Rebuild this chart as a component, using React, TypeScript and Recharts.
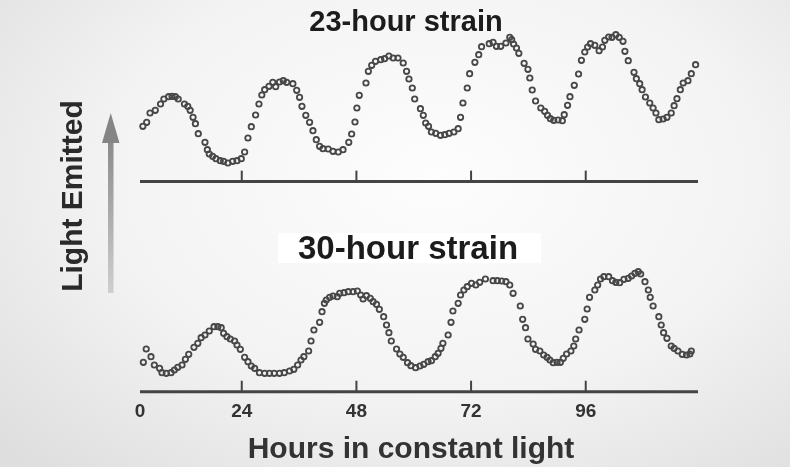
import { Scatter, ScatterChart, XAxis, YAxis } from "recharts";

// hours in constant light / light emitted (arbitrary units)
const HOURS_23 = [
  3.3, 4.1, 4.8, 5.9, 7.0, 7.7, 8.7, 9.4, 10.1, 10.7, 12.0, 12.7, 13.2, 13.8, 14.3, 14.9, 16.3, 16.8, 17.2, 17.9,
  18.6, 19.5, 20.2, 21.1, 22.1, 23.0, 23.9, 24.6, 25.3, 26.0, 26.9, 27.6, 28.2, 28.8, 29.7, 30.5, 31.1, 31.9, 32.7, 33.4,
  34.7, 35.5, 36.1, 36.6, 37.4, 38.2, 38.9, 39.6, 40.3, 41.0,
  42.1, 43.1, 44.2, 45.2, 46.4, 47.0, 47.7, 48.1, 48.6, 50.0, 50.5, 51.2, 52.0, 53.1, 53.9, 54.8, 55.7, 56.7, 57.8, 58.5,
  59.0, 59.7, 60.2, 61.4, 62.0, 62.5, 63.1, 63.7, 64.6, 65.6, 66.5, 67.4, 68.4, 69.3, 69.8, 70.3, 71.2, 71.7, 72.8, 73.6,
  74.2, 75.8, 76.6, 77.3, 78.2, 79.3, 80.1,
  80.5, 80.9, 81.5, 82.0, 83.1, 83.9, 84.3, 84.8, 85.5, 86.6, 87.4, 88.0, 88.6, 89.3, 90.2, 91.1, 91.5, 92.2, 92.7, 93.6,
  94.5, 95.1, 95.8, 96.4, 97.0, 97.9, 98.8, 99.5, 100.0, 100.8, 101.5, 102.3, 103.0, 103.8, 104.2, 104.9, 106.1, 106.6,
  107.3, 107.8, 108.5, 109.4, 110.1, 110.7, 111.3, 112.2, 113.0, 113.9, 114.5, 115.1, 115.8, 116.4, 117.4, 118.1, 119.0
];
const LIGHT_23 = [
  55.3, 59.3, 68.6, 71.3, 77.6, 82.6, 84.9, 85.3, 84.9, 82.6, 77.6, 75.3, 71.3, 64.3, 57.9, 47.9, 39.3, 31.9, 27.6, 25.3,
  22.9, 20.9, 20.3, 18.6, 20.3, 20.9, 22.9, 29.6, 43.6, 54.9, 66.6, 77.6, 86.6, 91.9, 95.3, 99.3, 94.9, 99.6, 100.9, 99.3,
  97.9, 91.3, 84.3, 75.3, 66.3, 59.3, 50.9, 41.9, 35.3, 32.9,
  32.6, 30.3, 29.6, 31.9, 39.3, 47.6, 59.6, 73.6, 86.3, 98.6, 110.3, 116.3, 120.3, 121.9, 122.9, 125.6, 123.6, 123.6, 118.6, 110.3,
  102.6, 93.6, 82.6, 72.9, 66.3, 58.6, 55.3, 49.6, 48.3, 46.3, 46.9, 48.3, 49.6, 52.9, 64.3, 78.6, 93.6, 107.9, 119.3, 126.9,
  134.9, 137.9, 139.3, 135.3, 135.3, 138.6, 144.3,
  141.9, 137.6, 133.6, 128.3, 118.3, 112.3, 103.6, 91.6, 80.6, 73.6, 70.3, 66.3, 62.9, 61.3, 61.6, 60.9, 66.9, 76.3, 84.9, 96.3,
  107.6, 121.3, 129.6, 134.6, 137.9, 136.3, 130.9, 134.6, 141.3, 144.6, 144.3, 146.9, 144.3, 140.3, 130.3, 120.9, 109.3, 102.9,
  97.9, 91.9, 84.6, 78.6, 73.6, 68.6, 61.9, 62.6, 64.3, 68.6, 75.9, 82.9, 91.9, 98.6, 100.9, 107.9, 116.9
];

const HOURS_30 = [
  3.4, 4.0, 5.0, 5.7, 6.8, 7.3, 8.2, 9.2, 9.9, 10.6, 11.5, 12.2, 12.9, 14.0, 14.8, 15.5, 16.3, 17.2, 18.2, 19.0,
  19.7, 20.2, 20.9, 21.6, 22.5, 23.0, 23.7, 24.6, 25.3, 26.0, 26.7, 27.7, 28.8, 29.8, 30.8, 31.9, 32.9, 34.0, 34.9, 35.7,
  36.4, 37.0, 38.0, 38.5, 39.1, 40.3, 40.8, 41.3,
  41.7, 42.4, 43.1, 44.0, 44.5, 45.4, 46.3, 47.3, 48.2, 48.9, 49.4, 50.1, 50.9, 51.5, 52.2, 52.8, 53.7, 54.3, 54.8, 55.3,
  56.4, 57.1, 57.8, 58.7, 59.4, 60.4, 61.3, 62.1, 63.0, 63.7, 64.5, 65.1, 65.7, 66.1, 67.2, 67.8, 68.2, 69.3, 69.8, 70.5,
  71.2, 72.1, 73.0, 73.8, 75.0, 76.6, 77.5, 78.4, 79.3, 80.1, 80.8,
  82.3, 82.8, 83.4, 83.9, 85.0, 85.5, 86.4, 87.2, 87.9, 88.5, 89.2, 90.0, 90.7, 91.3, 92.0, 92.9, 93.5, 93.9, 94.6, 95.8,
  96.3, 96.8, 97.9, 98.5, 99.1, 99.8, 100.8, 101.6, 102.3, 103.1, 104.0, 104.9, 105.6, 106.3, 107.0, 107.5, 108.4, 109.1,
  109.5, 110.1, 111.3, 111.8, 112.3, 113.0, 113.9, 114.5, 115.3, 116.2, 117.1, 117.8, 118.1
];
const LIGHT_30 = [
  29.4, 42.7, 35.0, 26.7, 23.4, 19.0, 18.4, 19.0, 21.7, 24.4, 26.7, 32.4, 37.4, 44.4, 48.4, 54.0, 56.7, 60.7, 65.0, 65.0,
  64.0, 58.4, 55.0, 52.7, 50.7, 46.7, 42.4, 34.4, 30.0, 25.7, 23.4, 19.0, 18.4, 18.4, 18.4, 18.4, 19.0, 20.7, 22.4, 26.7,
  31.7, 35.0, 40.7, 50.7, 61.7, 69.4, 80.0, 88.4,
  91.7, 94.4, 95.7, 95.0, 98.4, 99.0, 100.0, 100.0, 100.7, 96.7, 92.7, 96.0, 93.4, 90.0, 87.4, 82.4, 75.0, 66.7, 59.0, 50.7,
  42.7, 37.7, 34.4, 29.0, 26.0, 24.0, 25.7, 27.4, 30.0, 31.0, 35.0, 38.4, 43.4, 48.4, 56.7, 69.4, 80.7, 88.4, 96.7, 101.7,
  105.0, 108.4, 106.7, 109.4, 112.7, 111.0, 111.0, 110.7, 110.0, 106.7, 98.4,
  85.7, 72.4, 64.0, 52.7, 47.7, 42.4, 40.7, 36.7, 34.4, 31.7, 29.0, 29.4, 29.4, 33.4, 37.7, 40.7, 45.7, 52.7, 61.7, 72.4,
  82.7, 94.4, 101.7, 106.7, 112.7, 115.0, 115.0, 111.0, 109.4, 109.0, 112.4, 113.4, 115.7, 118.4, 120.0, 117.7, 110.0, 101.7,
  94.4, 85.7, 75.0, 66.7, 59.0, 53.4, 45.7, 43.4, 40.7, 37.4, 36.7, 37.7, 40.7
];

// the axis starts a little after hour 0, the "0" label sits at its left end
const X_DOMAIN: [number, number] = [2.7, 119.5];
const X_TICKS = [24, 48, 72, 96];
const Y_DOMAIN: [number, number] = [0, 150];

const FONT = '"Liberation Sans", Arial, Helvetica, sans-serif';
const INK = "#444";

const toPoints = (hours: number[], light: number[]) =>
  hours.map((h, i) => ({ h, v: light[i] }));

const data23 = toPoints(HOURS_23, LIGHT_23);
const data30 = toPoints(HOURS_30, LIGHT_30);

const Ring = (p: any) => (
  <circle cx={p.cx} cy={p.cy} r={2.7} fill="none" stroke="#474747" strokeWidth={1.8} />
);

const makeTick = (showLabel: boolean) => (p: any) => {
  const { x, y, payload, index } = p;
  return (
    <g>
      {index > 0 && (
        <line x1={x} x2={x} y1={y} y2={y - 11} stroke={INK} strokeWidth={2} />
      )}
      {showLabel && (
        <text
          x={x}
          y={y + 25}
          textAnchor="middle"
          fontFamily={FONT}
          fontWeight={700}
          fontSize={19}
          fill="#333"
        >
          {index === 0 ? "0" : payload.value}
        </text>
      )}
    </g>
  );
};

function Panel({
  data,
  height,
  top,
  axisHeight,
  showLabels
}: {
  data: { h: number; v: number }[];
  height: number;
  top: number;
  axisHeight: number;
  showLabels: boolean;
}) {
  return (
    <ScatterChart
      width={790}
      height={height}
      margin={{ top, right: 92, bottom: 0, left: 140 }}
    >
      <XAxis
        dataKey="h"
        type="number"
        domain={X_DOMAIN}
        ticks={[X_DOMAIN[0], ...X_TICKS]}
        interval={0}
        height={axisHeight}
        tickSize={0}
        tickMargin={0}
        tickLine={false}
        axisLine={{ stroke: INK, strokeWidth: 3 }}
        tick={makeTick(showLabels)}
      />
      <YAxis dataKey="v" type="number" domain={Y_DOMAIN} hide />
      <Scatter data={data} shape={Ring} isAnimationActive={false} />
    </ScatterChart>
  );
}

export default function App() {
  return (
    <div
      style={{
        position: "fixed",
        left: 0,
        top: 0,
        width: 790,
        height: 467,
        overflow: "hidden",
        background:
          "radial-gradient(ellipse 75% 85% at 55% 38%, #fdfdfd 0%, #f3f3f3 55%, #dedede 100%)"
      }}
    >
      <div style={{ position: "absolute", left: 0, top: 0 }}>
        <Panel data={data23} height={200} top={31.6} axisHeight={18.4} showLabels={false} />
      </div>
      <div style={{ position: "absolute", left: 0, top: 200 }}>
        <Panel data={data30} height={267} top={41.7} axisHeight={75.3} showLabels />
      </div>
      <svg
        width={790}
        height={467}
        style={{ position: "absolute", left: 0, top: 0, pointerEvents: "none" }}
      >
        <defs>
          <linearGradient id="shaft" x1="0" y1="0" x2="0" y2="1">
            <stop offset="0%" stopColor="#8a8a8a" />
            <stop offset="100%" stopColor="#cfcfcf" />
          </linearGradient>
        </defs>
        <text
          x={406}
          y={31}
          textAnchor="middle"
          fontFamily={FONT}
          fontWeight={700}
          fontSize={29}
          fill="#1c1c1c"
        >
          23-hour strain
        </text>
        <rect x={278} y={233} width={263} height={30} fill="#ffffff" />
        <text
          x={298}
          y={259}
          fontFamily={FONT}
          fontWeight={700}
          fontSize={33}
          fill="#1c1c1c"
        >
          30-hour strain
        </text>
        <text
          transform="translate(82 196) rotate(-90)"
          textAnchor="middle"
          fontFamily={FONT}
          fontWeight={700}
          fontSize={30}
          fill="#2a2a2a"
        >
          Light Emitted
        </text>
        <rect x={108} y={140} width={5.5} height={153} fill="url(#shaft)" />
        <polygon points="102,143 110.7,113 119.5,143" fill="#858585" />
        <text
          x={411}
          y={458}
          textAnchor="middle"
          fontFamily={FONT}
          fontWeight={700}
          fontSize={30}
          fill="#333"
        >
          Hours in constant light
        </text>
      </svg>
    </div>
  );
}
